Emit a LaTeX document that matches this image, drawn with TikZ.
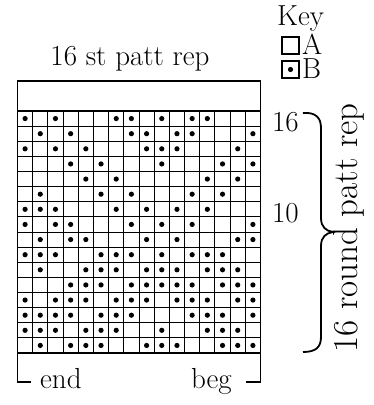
\documentclass[tikz,border=0pt]{standalone}
\usepackage{fontspec}
\begin{document}
\begin{tikzpicture}[x=1pt,y=-1pt,
  outer/.style={line width=1.8pt},
  inner/.style={line width=0.9pt},
  dot/.style={fill=black},
  lbl/.style={inner sep=0pt,font=\fontsize{29}{30}\selectfont},
  big/.style={inner sep=0pt,font=\fontsize{35}{36}\selectfont},
  keybox/.style={line width=1.6pt}]
\useasboundingbox (0,0) rectangle (374,405);
\def\cw{15.1875}
\def\ch{15.125}
% grid inner lines
\foreach \i in {1,...,15}{
  \draw[inner] ({17.5+\i*\cw},111) -- ({17.5+\i*\cw},353);
  \draw[inner] (17.5,{111+\i*\ch}) -- (260.5,{111+\i*\ch});
}
% dots
\foreach \r/\cols in {1/{1,3,7,8,10,12,13},2/{2,4,8,9,11,12,16},3/{1,3,5,9,10,11,15},4/{4,6,10,14,16},5/{5,7,13,15},6/{2,6,8,12,14},7/{1,2,3,7,9,11,13},8/{1,3,4,8,10,12,16},9/{2,4,5,9,11,15,16},10/{1,2,3,6,7,8,10,12,13,14},11/{2,5,6,7,9,10,11,13,14,15},12/{4,5,6,8,9,10,11,12,14,15,16},13/{1,3,4,5,7,8,9,11,12,13,15,16},14/{1,2,3,4,6,7,8,12,13,14,16},15/{1,2,3,5,6,7,10,13,14,15},16/{2,4,5,6,9,10,11,14,15,16}}{
  \foreach \c in \cols {
    \fill[dot] ({17.5+(\c-0.5)*\cw},{111+(\r-0.5)*\ch}) circle (2.6);
  }
}
% outer frame
\draw[outer] (17.5,81) rectangle (260.5,353);
\draw[outer] (17.5,111) -- (260.5,111);
\draw[outer] (17.5,352) -- (17.5,382) -- (31,382);
\draw[outer] (260.5,352) -- (260.5,382) -- (246,382);
% labels
\node[lbl,anchor=base] (top) at (130,65) {16 st patt rep};
\node[lbl,anchor=base west] (end) at (40,388) {end};
\node[lbl,anchor=base east] (beg) at (232,388) {beg};
\node[lbl,anchor=base east] (r16) at (299,131) {16};
\node[lbl,anchor=base east] (r10) at (299,222) {10};
\node[big,rotate=90] (rep) at (349,228) {16 round patt rep};
% brace
\draw[outer] (303,113) .. controls (316,112) and (321,118) .. (321,128) -- (321,218) .. controls (321,227) and (326,231) .. (333,232) .. controls (326,233) and (321,237) .. (321,246) -- (321,337) .. controls (321,347) and (316,352) .. (303,352);
% key
\node[lbl,anchor=base west] (key) at (277,25) {Key};
\draw[keybox] (282,37) rectangle (299,54);
\node[lbl,anchor=base west] (ka) at (302,54) {A};
\draw[keybox] (282,61) rectangle (299,78);
\fill[dot] (290.5,69.5) circle (2.6);
\node[lbl,anchor=base west] (kb) at (302,78) {B};
\end{tikzpicture}
\end{document}
